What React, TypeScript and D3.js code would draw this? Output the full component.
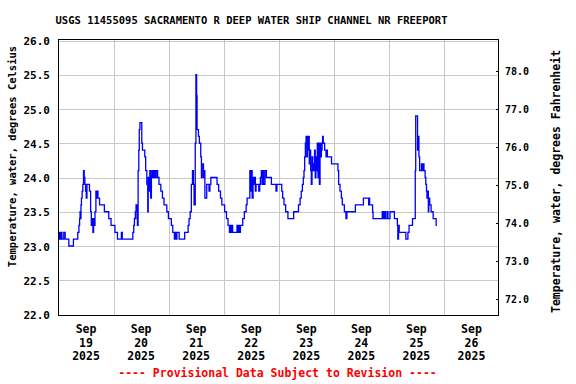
import * as d3 from 'd3';

const TITLE = 'USGS 11455095 SACRAMENTO R DEEP WATER SHIP CHANNEL NR FREEPORT';
const NOTE = '---- Provisional Data Subject to Revision ----';
const LEFT_LABEL = 'Temperature, water, degrees Celsius';
const RIGHT_LABEL = 'Temperature, water, degrees Fahrenheit';

const START = new Date(2025, 8, 19);
const END = new Date(2025, 8, 27);

// [hour of day, deg C] where the reading steps to a new value
const sep19: [number, number][] = [
  [0, 23.1], [0.4, 23.2], [0.7, 23.1], [1.2, 23.2], [1.5, 23.1], [2.3, 23.2], [2.9, 23.1],
  [4.5, 23.0], [6.5, 23.1], [8.4, 23.2], [8.9, 23.3], [9.2, 23.4], [9.4, 23.5], [9.6, 23.4],
  [9.8, 23.6], [10.0, 23.7], [10.3, 23.8], [10.6, 23.9], [10.9, 24.1], [11.2, 24.0],
  [11.5, 23.9], [11.8, 23.8], [12.1, 23.7], [12.4, 23.9], [13.5, 23.8], [14.0, 23.5],
  [14.3, 23.3], [14.6, 23.4], [15.0, 23.2], [15.3, 23.4], [15.6, 23.3], [15.9, 23.5],
  [16.3, 23.8], [16.6, 23.7], [16.9, 23.8], [17.2, 23.7], [17.9, 23.6], [20.0, 23.5],
  [21.9, 23.4], [22.9, 23.3],
];
const sep20: [number, number][] = [
  [0.6, 23.2], [1.7, 23.1], [3.4, 23.2], [3.8, 23.1], [8.4, 23.2], [8.8, 23.3], [9.1, 23.4],
  [9.5, 23.5], [9.8, 23.6], [10.2, 23.4], [10.4, 23.3], [10.7, 24.1], [11.0, 24.4],
  [11.2, 24.7], [11.5, 24.8], [12.3, 24.5], [12.6, 24.4], [13.6, 24.3], [14.0, 24.1],
  [14.5, 23.9], [14.9, 23.5], [15.1, 24.0], [15.6, 23.8], [15.8, 24.1], [16.2, 23.7],
  [16.5, 24.0], [16.8, 24.1], [17.3, 24.0], [17.7, 24.1], [18.2, 24.0], [18.6, 24.1],
  [19.2, 24.0], [19.8, 23.9], [20.6, 23.8], [21.3, 23.7], [22.0, 23.6], [23.2, 23.5],
  [23.9, 23.4],
];
const sep21: [number, number][] = [
  [1.2, 23.3], [1.8, 23.2], [2.5, 23.1], [2.8, 23.2], [3.3, 23.1], [3.6, 23.2], [4.6, 23.1],
  [7.0, 23.2], [8.5, 23.3], [8.9, 23.4], [9.4, 23.5], [9.9, 23.9], [10.4, 24.1], [10.8, 23.9],
  [11.1, 23.6], [11.6, 24.5], [11.9, 25.5], [12.2, 25.2], [12.4, 24.7], [13.0, 24.6],
  [13.4, 24.5], [14.0, 24.3], [14.3, 24.0], [14.6, 24.1], [14.9, 24.2], [15.2, 24.0],
  [15.5, 24.1], [15.8, 23.7], [16.6, 23.9], [17.6, 23.8], [18.0, 23.9], [18.4, 24.0],
  [21.1, 23.9], [21.8, 23.8], [22.6, 23.7], [23.2, 23.6],
];
const sep22: [number, number][] = [
  [0.4, 23.5], [1.2, 23.4], [1.9, 23.3], [2.5, 23.2], [2.8, 23.3], [3.1, 23.2], [3.5, 23.3],
  [3.9, 23.2], [5.8, 23.3], [6.1, 23.2], [6.5, 23.3], [6.9, 23.2], [7.3, 23.3], [8.3, 23.4],
  [9.0, 23.5], [9.8, 23.6], [10.2, 23.7], [11.4, 24.1], [11.7, 23.8], [12.0, 24.1],
  [12.4, 23.7], [12.8, 24.0], [13.1, 23.9], [13.5, 24.0], [13.8, 23.8], [14.1, 23.9],
  [15.3, 23.8], [15.7, 23.9], [16.0, 24.0], [16.4, 24.1], [16.7, 23.9], [17.0, 24.1],
  [17.4, 23.9], [18.0, 24.1], [18.6, 24.0], [20.8, 23.9], [22.8, 23.8], [23.2, 23.9],
];
const sep23: [number, number][] = [
  [1.3, 23.8], [1.7, 23.7], [2.3, 23.6], [3.0, 23.5], [4.0, 23.4], [6.5, 23.5], [8.6, 23.6],
  [9.3, 23.7], [9.8, 23.8], [10.3, 23.9], [10.7, 24.0], [11.0, 24.1], [11.3, 24.3],
  [11.6, 24.5], [11.9, 24.6], [12.2, 24.3], [12.5, 24.6], [12.8, 24.4], [13.0, 24.6],
  [13.3, 24.2], [13.6, 24.4], [13.9, 24.1], [14.2, 23.9], [14.5, 24.3], [14.8, 24.1],
  [15.1, 24.2], [15.4, 24.1], [15.6, 24.4], [15.9, 24.0], [16.2, 24.3], [16.5, 24.1],
  [16.8, 24.5], [17.1, 24.0], [17.4, 24.5], [17.7, 23.9], [18.0, 24.5], [18.3, 24.3],
  [18.6, 24.4], [18.9, 24.5], [19.1, 24.6], [19.4, 24.5], [20.0, 24.4], [20.6, 24.3],
  [20.9, 24.4], [21.2, 24.3], [23.0, 24.2],
];
const sep24: [number, number][] = [
  [1.8, 24.1], [2.1, 23.9], [2.7, 23.8], [3.3, 23.7], [3.7, 23.6], [4.6, 23.5], [5.3, 23.4],
  [5.7, 23.5], [9.4, 23.6], [12.9, 23.7], [15.2, 23.6], [15.4, 23.7], [15.6, 23.6],
  [16.9, 23.5], [17.1, 23.4], [21.1, 23.5], [21.3, 23.4], [21.6, 23.5], [21.8, 23.4],
  [22.3, 23.5], [22.6, 23.4], [23.3, 23.5], [23.6, 23.4],
];
const sep25: [number, number][] = [
  [0.5, 23.5], [2.4, 23.4], [3.7, 23.3], [3.9, 23.1], [4.2, 23.3], [4.5, 23.2], [7.4, 23.1],
  [8.3, 23.2], [8.8, 23.3], [10.3, 23.4], [11.5, 24.1], [11.7, 24.9], [12.5, 24.4],
  [12.8, 24.6], [13.1, 24.3], [13.4, 24.1], [14.2, 24.2], [14.6, 24.1], [14.9, 24.2],
  [15.3, 24.1], [15.8, 24.0], [16.1, 23.9], [16.4, 23.8], [16.6, 23.7], [16.9, 23.8],
  [17.2, 23.5], [17.4, 23.7], [17.8, 23.6], [18.4, 23.5], [19.3, 23.4], [20.6, 23.3],
  [20.9, 23.3],
];

const celsiusTicks = [22.0, 22.5, 23.0, 23.5, 24.0, 24.5, 25.0, 25.5, 26.0];
const fahrenheitTicks = [72, 73, 74, 75, 76, 77, 78];

const W = 576;
const H = 384;
const FONT = '"DejaVu Sans Mono", "Liberation Mono", monospace';

export default function App() {
  const x = d3.scaleTime().domain([START, END]).range([58.5, 499]);
  const y = d3.scaleLinear().domain([22, 26]).range([314.5, 40.5]);
  const yF = d3.scaleLinear().domain([22 * 1.8 + 32, 26 * 1.8 + 32]).range([314.5, 40.5]);

  const points = [sep19, sep20, sep21, sep22, sep23, sep24, sep25].flatMap((day, i) =>
    day.map(([h, t]) => ({ time: new Date(START.getTime() + (i * 24 + h) * 3600e3), value: t })),
  );

  const line = d3
    .line<{ time: Date; value: number }>()
    .x((d) => x(d.time))
    .y((d) => y(d.value))
    .curve(d3.curveStepAfter);

  const days = d3.timeDay.range(START, END);
  const fmtMon = d3.timeFormat('%b');
  const fmtDay = d3.timeFormat('%d');
  const fmtYear = d3.timeFormat('%Y');

  const left = 58.5;
  const right = 498.5;
  const top = 39.5;
  const bottom = 315.5;

  return (
    <svg
      width={W}
      height={H}
      viewBox={`0 0 ${W} ${H}`}
      style={{ position: 'absolute', left: 0, top: 0, background: '#fff' }}
      fontFamily={FONT}
      fontWeight="bold"
    >
      <text x={251.5} y={24} textAnchor="middle" fontSize={10.5} fill="#000">
        {TITLE}
      </text>

      {/* grid */}
      <g stroke="#c8c8c8" strokeWidth={1} shapeRendering="crispEdges">
        {celsiusTicks.map((v) => (
          <line key={v} x1={left} x2={right} y1={Math.round(y(v)) + 0.5} y2={Math.round(y(v)) + 0.5} />
        ))}
        {days.slice(1).map((d) => (
          <line key={+d} x1={Math.round(x(d)) + 0.5} x2={Math.round(x(d)) + 0.5} y1={top} y2={bottom} />
        ))}
      </g>

      <path d={line(points) ?? undefined} fill="none" stroke="#0000ff" strokeWidth={1.3} />

      <rect
        x={left}
        y={top}
        width={right - left}
        height={bottom - top}
        fill="none"
        stroke="#000"
        strokeWidth={1}
        shapeRendering="crispEdges"
      />

      {/* right (Fahrenheit) ticks */}
      <g stroke="#000" shapeRendering="crispEdges">
        {fahrenheitTicks.map((v) => (
          <line key={v} x1={right - 3} x2={right} y1={Math.round(yF(v)) + 0.5} y2={Math.round(yF(v)) + 0.5} />
        ))}
      </g>

      {celsiusTicks.map((v) => (
        <text key={v} x={50} y={y(v) + 4.5} textAnchor="end" fontSize={11}>
          {v.toFixed(1)}
        </text>
      ))}
      {fahrenheitTicks.map((v) => (
        <text key={v} x={505} y={yF(v) + 4} textAnchor="start" fontSize={10}>
          {v.toFixed(1)}
        </text>
      ))}

      {days.map((d) => {
        const cx = x(d3.timeHour.offset(d, 12));
        return (
          <text key={+d} x={cx} textAnchor="middle" fontSize={11.5}>
            <tspan x={cx} y={333}>{fmtMon(d)}</tspan>
            <tspan x={cx} y={346.5}>{fmtDay(d)}</tspan>
            <tspan x={cx} y={360}>{fmtYear(d)}</tspan>
          </text>
        );
      })}

      <text transform="translate(16,156.5) rotate(-90)" textAnchor="middle" fontSize={10.5}>
        {LEFT_LABEL}
      </text>
      <text transform="translate(559.5,181.5) rotate(-90)" textAnchor="middle" fontSize={11.5}>
        {RIGHT_LABEL}
      </text>

      <text x={277.5} y={377} textAnchor="middle" fontSize={11.5} fill="#ff0000">
        {NOTE}
      </text>
    </svg>
  );
}
